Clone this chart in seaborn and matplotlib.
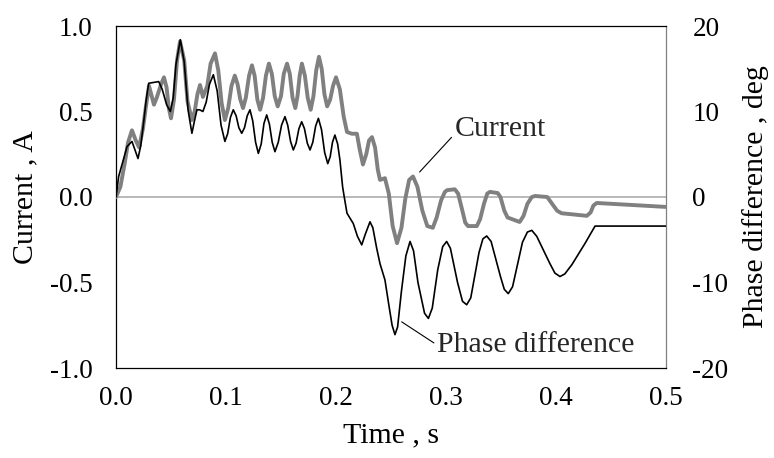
import matplotlib
matplotlib.use("Agg")
import matplotlib.pyplot as plt
import pandas as pd
import seaborn as sns

# Current response (A) versus time (s)
t_current = [
    0.000, 0.004, 0.008, 0.011, 0.0145, 0.018, 0.021, 0.0245, 0.027, 0.030,
    0.032, 0.0345, 0.037, 0.041, 0.0436, 0.046, 0.048, 0.050, 0.0527, 0.0555,
    0.0582, 0.062, 0.065, 0.069, 0.0715, 0.074, 0.0764, 0.079, 0.083, 0.086,
    0.090, 0.093, 0.096, 0.099, 0.102, 0.105, 0.108, 0.1105, 0.113, 0.1155,
    0.118, 0.121, 0.1236, 0.126, 0.1285, 0.131, 0.1337, 0.1363, 0.139, 0.1417,
    0.1443, 0.147, 0.150, 0.1525, 0.1555, 0.158, 0.1605, 0.163, 0.165, 0.167,
    0.169, 0.1717, 0.1743, 0.177, 0.1795, 0.182, 0.1845, 0.187, 0.1895, 0.192,
    0.1947, 0.1973, 0.200, 0.2035, 0.207, 0.210, 0.2145, 0.219, 0.2215, 0.2245,
    0.2275, 0.230, 0.2327, 0.2355, 0.238, 0.240, 0.2445, 0.248, 0.2515, 0.2555,
    0.2595, 0.263, 0.2665, 0.270, 0.274, 0.2785, 0.283, 0.288, 0.2915, 0.2955,
    0.299, 0.301, 0.308, 0.311, 0.3145, 0.3175, 0.320, 0.328, 0.331, 0.3345,
    0.3375, 0.340, 0.347, 0.3495, 0.353, 0.356, 0.367, 0.3705, 0.374, 0.378,
    0.381, 0.392, 0.3965, 0.401, 0.405, 0.428, 0.4315, 0.434, 0.437, 0.500,
]
current = [
    0.00, 0.06, 0.20, 0.32, 0.39, 0.33, 0.29, 0.40, 0.52, 0.65,
    0.60, 0.54, 0.58, 0.66, 0.70, 0.64, 0.52, 0.46, 0.57, 0.80,
    0.91, 0.80, 0.56, 0.45, 0.50, 0.60, 0.655, 0.585, 0.65, 0.78,
    0.84, 0.74, 0.55, 0.45, 0.52, 0.65, 0.71, 0.66, 0.57, 0.52,
    0.58, 0.71, 0.77, 0.71, 0.57, 0.51, 0.58, 0.71, 0.78, 0.72,
    0.59, 0.53, 0.59, 0.72, 0.78, 0.72, 0.58, 0.52, 0.59, 0.71,
    0.78, 0.71, 0.58, 0.51, 0.59, 0.74, 0.82, 0.75, 0.60, 0.53,
    0.57, 0.65, 0.70, 0.63, 0.47, 0.38, 0.37, 0.37, 0.28, 0.19,
    0.25, 0.33, 0.35, 0.29, 0.16, 0.10, 0.11, 0.02, -0.17, -0.27,
    -0.18, -0.01, 0.10, 0.12, 0.06, -0.08, -0.17, -0.18, -0.12, -0.02,
    0.03, 0.04, 0.045, 0.02, -0.07, -0.15, -0.17, -0.17, -0.13, -0.04,
    0.02, 0.03, 0.023, 0.00, -0.08, -0.12, -0.146, -0.11, -0.04, 0.00,
    0.006, 0.00, -0.04, -0.08, -0.095, -0.11, -0.09, -0.05, -0.035, -0.058,
]

# Phase difference (deg) versus time (s)
t_phase = [
    0.000, 0.0024, 0.007, 0.010, 0.0145, 0.017, 0.020, 0.0225, 0.025, 0.0275,
    0.0297, 0.0388, 0.042, 0.046, 0.0494, 0.052, 0.0545, 0.0585, 0.062, 0.0655,
    0.069, 0.0715, 0.0736, 0.076, 0.079, 0.082, 0.085, 0.0885, 0.092, 0.0955,
    0.099, 0.1015, 0.104, 0.1066, 0.1092, 0.1117, 0.1143, 0.1168, 0.1193, 0.1218,
    0.1243, 0.1269, 0.1294, 0.132, 0.1345, 0.137, 0.1395, 0.142, 0.1445, 0.1475,
    0.1505, 0.1536, 0.1561, 0.1587, 0.1612, 0.1637, 0.1663, 0.1688, 0.1713, 0.1739,
    0.1764, 0.1789, 0.1815, 0.184, 0.1868, 0.1897, 0.1925, 0.1947, 0.1968, 0.199,
    0.2015, 0.2036, 0.206, 0.2075, 0.210, 0.2157, 0.2195, 0.2234, 0.2265, 0.2309,
    0.2335, 0.237, 0.240, 0.2445, 0.248, 0.251, 0.2536, 0.256, 0.2595, 0.2635,
    0.2673, 0.2705, 0.2745, 0.2805, 0.284, 0.2875, 0.2925, 0.297, 0.3006, 0.304,
    0.3105, 0.315, 0.3188, 0.3225, 0.330, 0.3335, 0.337, 0.341, 0.3495, 0.353,
    0.3566, 0.3605, 0.3695, 0.374, 0.378, 0.3825, 0.3945, 0.399, 0.4036, 0.408,
    0.4145, 0.4265, 0.4355, 0.500,
]
phase = [
    0.0, 2.4, 4.5, 5.9, 6.5, 5.6, 4.5, 6.0, 8.6, 11.4,
    13.3, 13.5, 12.6, 10.8, 10.0, 11.6, 15.5, 18.4, 15.8, 10.2,
    7.45, 9.0, 10.2, 10.2, 10.0, 11.1, 13.2, 14.3, 12.4, 8.4,
    6.5, 7.4, 9.3, 10.2, 9.5, 8.1, 7.45, 8.1, 9.5, 10.2,
    8.9, 6.4, 5.1, 6.2, 8.6, 9.6, 8.5, 6.4, 5.3, 6.4,
    8.4, 9.4, 8.4, 6.5, 5.5, 6.3, 8.0, 8.8, 8.0, 6.3,
    5.5, 6.4, 8.3, 9.2, 7.9, 5.2, 3.9, 4.7, 6.4, 7.25,
    6.2, 4.3, 1.2, 0.0, -1.9, -3.1, -4.6, -5.6, -4.4, -2.9,
    -3.6, -6.0, -7.8, -9.7, -12.6, -15.0, -16.1, -15.2, -11.0, -6.9,
    -5.2, -6.3, -10.0, -13.6, -14.2, -13.0, -8.5, -5.8, -5.2, -6.0,
    -10.0, -12.2, -12.6, -11.8, -6.5, -4.9, -4.56, -5.2, -9.3, -10.8,
    -11.3, -10.5, -5.3, -4.1, -3.9, -4.6, -7.8, -8.9, -9.3, -9.0,
    -7.9, -5.4, -3.4, -3.4,
]

x_ticks = [0.0, 0.1, 0.2, 0.3, 0.4, 0.5]
current_ticks = [-1.0, -0.5, 0.0, 0.5, 1.0]
phase_ticks = [-20, -10, 0, 10, 20]

sns.set_theme(style="white")
plt.rcParams["font.family"] = ["Liberation Serif", "DejaVu Serif"]
TICK_FS = 19.5
LABEL_FS = 21.5

df_cur = pd.DataFrame({"t": t_current, "v": current})
df_ph = pd.DataFrame({"t": t_phase, "v": phase})

fig = plt.figure(figsize=(7.74, 4.58), dpi=100)
ax = fig.add_axes([116 / 774, 1 - 368 / 458, 550 / 774, 342 / 458])
ax2 = ax.twinx()

ax.axhline(0, color="#a6a6a6", lw=1.1, zorder=1)
sns.lineplot(data=df_cur, x="t", y="v", ax=ax, color="#808080", lw=2.8,
             sort=False, estimator=None, zorder=3)
sns.lineplot(data=df_ph, x="t", y="v", ax=ax2, color="black", lw=1.2,
             sort=False, estimator=None, zorder=3)
for line in ax.lines + ax2.lines:
    line.set_solid_joinstyle("round")
    line.set_solid_capstyle("round")

ax.set_xlim(0, 0.5)
ax.set_ylim(-1, 1)
ax2.set_ylim(-20, 20)
ax.set_xticks(x_ticks)
ax.set_xticklabels([f"{v:.1f}" for v in x_ticks])
ax.set_yticks(current_ticks)
ax.set_yticklabels([f"{v:.1f}" for v in current_ticks])
ax2.set_yticks(phase_ticks)
ax2.set_yticklabels([str(v) for v in phase_ticks])

ax.tick_params(axis="x", length=0, pad=13, labelsize=TICK_FS, colors="black")
ax.tick_params(axis="y", length=0, pad=17, labelsize=TICK_FS, colors="black")
ax2.tick_params(axis="y", length=0, pad=19, labelsize=TICK_FS, colors="black")

ax.set_xlabel("Time , s", fontsize=LABEL_FS, color="black")
ax.set_ylabel("Current , A", fontsize=LABEL_FS, color="black")
ax2.set_ylabel("Phase difference , deg", fontsize=LABEL_FS, color="black")
ax.xaxis.set_label_coords(0.5, -0.158)
ax.yaxis.set_label_coords(-0.142, 0.5)
ax2.yaxis.set_label_coords(1.138, 0.5)

for sp in ax2.spines.values():
    sp.set_visible(False)
for name, sp in ax.spines.items():
    sp.set_visible(True)
    sp.set_linewidth(0.9)
    sp.set_color("#808080" if name == "right" else "black")

# Series labels with leader lines
ax.annotate("Current", xy=(0.276, 0.146), xytext=(0.308, 0.40),
            fontsize=LABEL_FS, va="center", ha="left",
            arrowprops=dict(arrowstyle="-", color="black", lw=0.8,
                            shrinkA=0, shrinkB=0, relpos=(0, 0.3)))
ax.annotate("Phase difference", xy=(0.2597, -0.73), xytext=(0.292, -0.866),
            fontsize=LABEL_FS, va="center", ha="left",
            arrowprops=dict(arrowstyle="-", color="black", lw=0.8,
                            shrinkA=0, shrinkB=0, relpos=(0, 0.5)))

fig.savefig("out.png", dpi=100)
